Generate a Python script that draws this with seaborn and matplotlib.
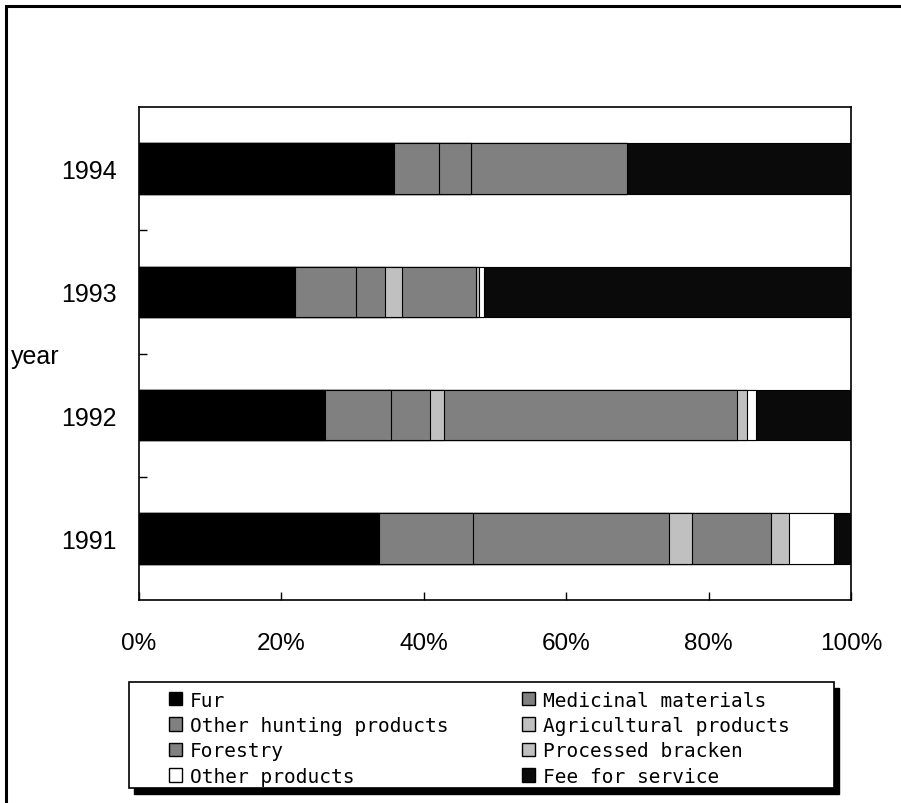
import matplotlib
matplotlib.use("Agg")
import matplotlib.pyplot as plt
from matplotlib.patches import Patch, Rectangle
from matplotlib.ticker import FixedLocator, FuncFormatter
import pandas as pd
import seaborn as sns

# Income shares (%) by year, top bar first
years = ["1994", "1993", "1992", "1991"]
fur = [35.8, 21.9, 26.1, 33.7]
medicinal = [6.3, 8.6, 9.3, 13.2]
other_hunting = [4.5, 4.0, 5.5, 27.6]
agricultural = [0.0, 2.5, 2.0, 3.2]
forestry = [21.9, 10.4, 41.1, 11.1]
bracken = [0.0, 0.4, 1.4, 2.5]
other_products = [0.0, 0.6, 1.3, 6.3]
fee = [31.5, 51.6, 13.3, 2.4]

series_names = ["Fur", "Medicinal materials", "Other hunting products",
                "Agricultural products", "Forestry", "Processed bracken",
                "Other products", "Fee for service"]
series_values = [fur, medicinal, other_hunting, agricultural, forestry,
                 bracken, other_products, fee]
series_colors = ["#000000", "#808080", "#808080", "#c0c0c0", "#808080",
                 "#c0c0c0", "#ffffff", "#0a0a0a"]

df = pd.DataFrame(dict(zip(series_names, series_values)), index=years)
cum = df.cumsum(axis=1)

sns.set_theme(style="white")
plt.rcParams["font.family"] = ["Liberation Sans", "DejaVu Sans"]

W, H = 901, 804
fig = plt.figure(figsize=(W / 100, H / 100), dpi=100)
fig.patch.set_facecolor("white")

# plot area in pixels: x 139..851, y 108..601
ax = fig.add_axes([139 / W, 1 - 601 / H, 712 / W, 493 / H])

# stacked bars: draw cumulative totals from the outermost segment inward
for name, color in zip(reversed(series_names), reversed(series_colors)):
    sns.barplot(x=cum[name].values, y=years, order=years, orient="h",
                color=color, saturation=1, width=0.41,
                edgecolor="black", linewidth=0.8, ax=ax)

ax.set_xlim(0, 100)
ax.set_ylim(3.5, -0.5)
ax.set_xlabel("")

ax.xaxis.set_major_locator(FixedLocator([0, 20, 40, 60, 80, 100]))
ax.xaxis.set_major_formatter(FuncFormatter(lambda v, p: f"{int(v)}%"))
ax.tick_params(axis="x", direction="in", length=6, width=1, color="black",
               pad=23, labelsize=17.5, labelcolor="black", bottom=True)

ax.set_yticks(range(len(years)))
ax.set_yticklabels(years)
ax.yaxis.set_minor_locator(FixedLocator([0.5, 1.5, 2.5]))
ax.tick_params(axis="y", which="major", length=0, pad=16, labelsize=18,
               labelcolor="black")
ax.tick_params(axis="y", which="minor", direction="in", length=6, width=1,
               color="black", left=True)

ax.set_ylabel("year", rotation=0, ha="left", va="center", fontsize=18,
              color="black")
ax.yaxis.set_label_coords((11 - 139) / 712, 1 - (357 - 108) / 493)

for s in ax.spines.values():
    s.set_visible(True)
    s.set_color("black")
    s.set_linewidth(1.2)

# outer frame of the chart area
fig.add_artist(Rectangle((6 / W, -0.1), 2.0, 1 - 7 / H + 0.1,
                         transform=fig.transFigure, fill=False,
                         edgecolor="black", linewidth=2.2))

# legend box with a drop shadow
lx0, ly0, lx1, ly1 = 129, 683, 834, 789
fig.add_artist(Rectangle(((lx0 + 5) / W, 1 - (ly1 + 6) / H),
                         (lx1 - lx0) / W, (ly1 - ly0) / H,
                         transform=fig.transFigure, facecolor="black",
                         edgecolor="black", linewidth=1, zorder=2))
fig.add_artist(Rectangle((lx0 / W, 1 - ly1 / H),
                         (lx1 - lx0) / W, (ly1 - ly0) / H,
                         transform=fig.transFigure, facecolor="white",
                         edgecolor="black", linewidth=1.2, zorder=3))

handles = {n: Patch(facecolor=c, edgecolor="black", linewidth=1)
           for n, c in zip(series_names, series_colors)}
col_order = [0, 2, 4, 6, 1, 3, 5, 7]
leg = fig.legend([handles[series_names[i]] for i in col_order],
                 [series_names[i] for i in col_order],
                 ncol=2, loc="upper left",
                 bbox_to_anchor=(153 / W, 1 - 676 / H),
                 bbox_transform=fig.transFigure, frameon=False,
                 prop={"family": "DejaVu Sans Mono", "size": 14},
                 handlelength=0.68, handleheight=0.68, handletextpad=0.4,
                 labelspacing=0.33, columnspacing=3.8, borderpad=0.3)
leg.set_zorder(4)
for t in leg.get_texts():
    t.set_color("black")

fig.savefig("out.png", dpi=100, facecolor="white")
